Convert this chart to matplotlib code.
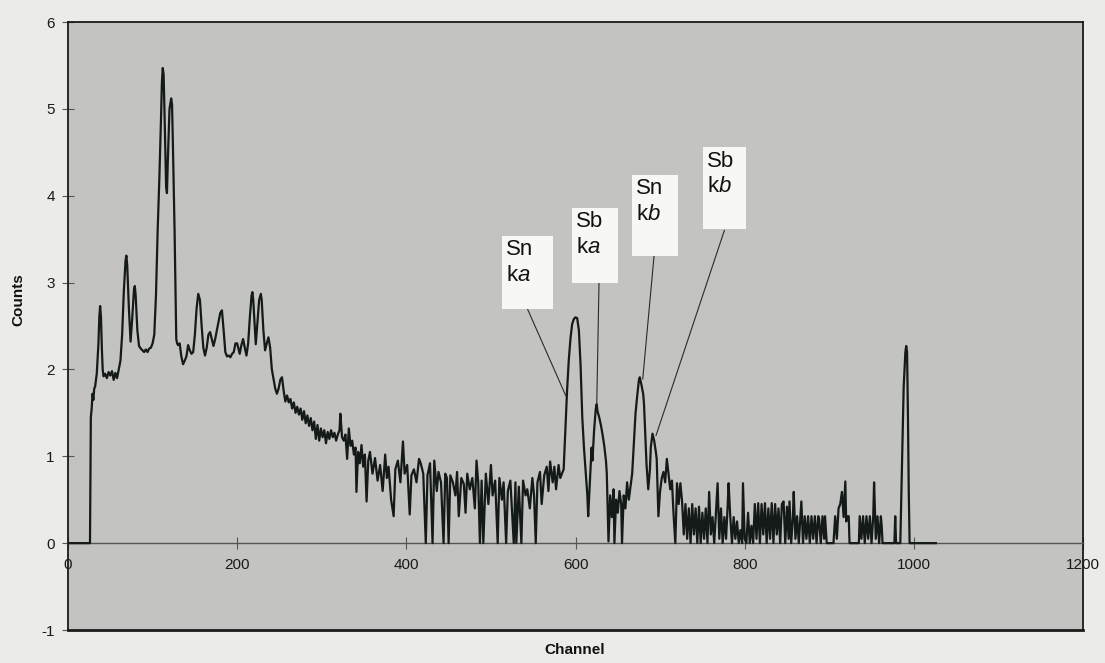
import matplotlib.pyplot as plt
from matplotlib.patches import Rectangle

plt.rcParams["font.family"] = ["Liberation Sans", "DejaVu Sans"]
plt.rcParams["mathtext.fontset"] = "custom"
plt.rcParams["mathtext.rm"] = "Liberation Sans"
plt.rcParams["mathtext.it"] = "Liberation Sans:italic"
plt.rcParams["axes.unicode_minus"] = False

# --- spectrum (channel, counts) ---
# low-energy region with the big L/K lines
ch_low = [0, 26, 27, 28, 29, 30, 31, 32, 34, 36, 37, 38, 39, 40, 41, 42, 44, 46, 48, 50,
          52, 54, 56, 58, 60, 62, 64, 66, 68, 69, 70, 72, 74, 76, 78, 79, 80, 82, 84, 86,
          88, 90, 92, 94, 96, 98, 100, 102, 104, 106, 108, 110, 111, 112, 113, 114, 116, 117, 118, 120,
          122, 123, 124, 126, 128, 129, 130, 132, 134, 136, 138, 140, 142, 144, 146, 148, 150, 152, 154, 156,
          158, 160, 162, 164, 166, 168, 170, 172, 174, 176, 178, 180, 182, 184, 186, 188, 190, 192, 194, 196,
          198, 200, 202, 203, 205, 207, 209, 211, 213, 215, 217, 218, 219, 221, 222, 224, 226, 228, 229, 231,
          233, 235, 237, 239, 241, 243, 245, 247, 249, 251, 253, 255]
cnt_low = [0, 0, 1.45, 1.55, 1.72, 1.65, 1.78, 1.80, 1.95, 2.30, 2.60, 2.73, 2.60, 2.25, 2.00, 1.92, 1.95, 1.90, 1.97, 1.93,
           1.98, 1.88, 1.96, 1.90, 2.00, 2.10, 2.40, 2.90, 3.25, 3.31, 3.20, 2.70, 2.32, 2.60, 2.92, 2.96, 2.85, 2.45, 2.27, 2.24,
           2.22, 2.20, 2.23, 2.20, 2.24, 2.25, 2.30, 2.40, 2.85, 3.60, 4.20, 4.90, 5.30, 5.47, 5.40, 5.00, 4.10, 4.03, 4.40, 5.00,
           5.12, 5.05, 4.60, 3.60, 2.35, 2.30, 2.28, 2.30, 2.15, 2.06, 2.10, 2.15, 2.28, 2.22, 2.18, 2.20, 2.40, 2.70, 2.87, 2.80,
           2.50, 2.25, 2.16, 2.25, 2.40, 2.43, 2.35, 2.27, 2.35, 2.45, 2.55, 2.65, 2.68, 2.45, 2.20, 2.15, 2.16, 2.14, 2.18, 2.20,
           2.30, 2.30, 2.22, 2.18, 2.28, 2.35, 2.25, 2.16, 2.30, 2.60, 2.85, 2.89, 2.80, 2.45, 2.29, 2.55, 2.80, 2.87, 2.80, 2.45,
           2.22, 2.30, 2.37, 2.25, 2.00, 1.89, 1.78, 1.72, 1.78, 1.88, 1.91, 1.75]

# noisy falling background
ch_mid = [257, 259, 261, 263, 265, 267, 269, 271, 273, 275, 277, 279, 281, 283, 285, 287, 289, 291, 293, 295,
          297, 299, 301, 303, 305, 307, 309, 311, 313, 315, 317, 319, 321, 322, 324, 326, 328, 330, 332, 334,
          336, 338, 340, 341, 343, 345, 347, 349, 351, 353, 355, 357, 360, 363, 366, 369, 372, 375, 377, 379,
          382, 385, 387, 390, 393, 396, 398, 401, 404, 406, 409, 412, 415, 417, 420, 423, 425, 428, 431, 433,
          436, 438, 441, 444, 446, 448, 450, 452, 455, 458, 460, 462, 465, 468, 470, 472, 475, 478, 481, 483,
          485, 487, 489, 491, 494, 497, 500, 502, 505, 508, 510, 513, 515, 518, 520, 523, 525, 527, 529, 530,
          533, 536, 538, 541, 543, 546, 549, 551, 553, 555, 558, 560, 563, 566, 568, 570, 573, 575, 577, 580,
          582, 584]
cnt_mid = [1.63, 1.70, 1.62, 1.66, 1.55, 1.62, 1.50, 1.57, 1.48, 1.55, 1.42, 1.52, 1.38, 1.47, 1.35, 1.44, 1.30, 1.40, 1.20, 1.36,
           1.18, 1.32, 1.22, 1.30, 1.15, 1.28, 1.20, 1.30, 1.22, 1.27, 1.18, 1.25, 1.30, 1.49, 1.22, 1.18, 1.25, 0.97, 1.32, 1.12,
           1.18, 1.02, 1.10, 0.59, 1.05, 0.92, 1.13, 0.88, 1.02, 0.48, 0.95, 1.05, 0.80, 0.98, 0.72, 0.90, 0.60, 1.02, 0.75, 0.88,
           0.50, 0.31, 0.85, 0.95, 0.70, 1.17, 0.80, 0.90, 0.33, 0.78, 0.85, 0.70, 0.97, 0.92, 0.80, 0.00, 0.78, 0.92, 0.00, 0.95,
           0.60, 0.82, 0.70, 0.00, 0.80, 0.75, 0.00, 0.78, 0.70, 0.55, 0.82, 0.31, 0.75, 0.68, 0.35, 0.80, 0.62, 0.75, 0.40, 0.95,
           0.70, 0.00, 0.72, 0.00, 0.80, 0.45, 0.90, 0.55, 0.72, 0.00, 0.75, 0.50, 0.70, 0.00, 0.60, 0.72, 0.35, 0.00, 0.70, 0.00,
           0.65, 0.00, 0.72, 0.55, 0.62, 0.40, 0.75, 0.55, 0.00, 0.70, 0.82, 0.45, 0.78, 0.88, 0.60, 0.94, 0.70, 0.88, 0.62, 0.90,
           0.75, 0.80]

# Sn / Sb K lines
ch_k = [586, 588, 590, 592, 594, 596, 598, 600, 602, 604, 606, 608, 610, 612, 614, 615, 617, 619, 620, 622,
        624, 625, 626, 628, 630, 632, 634, 636, 637, 638, 639, 641, 643, 645, 646, 648, 650, 652, 654, 655,
        657, 659, 661, 663, 665, 667, 669, 671, 673, 675, 676, 678, 680, 681, 683, 684, 686, 688, 689, 691,
        693, 695, 696, 698, 700, 702, 704, 706, 708, 710, 712, 714, 716, 718, 720, 722, 724, 726]
cnt_k = [0.85, 1.30, 1.75, 2.10, 2.35, 2.52, 2.58, 2.60, 2.59, 2.45, 2.05, 1.45, 1.10, 0.82, 0.55, 0.31, 0.70, 1.10, 0.95, 1.30,
         1.55, 1.60, 1.52, 1.45, 1.36, 1.25, 1.12, 0.95, 0.80, 0.40, 0.02, 0.55, 0.30, 0.62, 0.00, 0.50, 0.35, 0.60, 0.45, 0.00,
         0.55, 0.40, 0.70, 0.50, 0.65, 0.80, 1.15, 1.50, 1.70, 1.88, 1.91, 1.82, 1.72, 1.60, 1.15, 0.90, 0.62, 0.85, 1.10, 1.26,
         1.18, 1.05, 0.97, 0.31, 0.60, 0.75, 0.82, 0.70, 0.97, 0.80, 0.62, 0.72, 0.32, 0.00, 0.69, 0.45, 0.69, 0.48]

# high channels, near-empty with the pulser peak
ch_high = [728, 730, 732, 734, 736, 738, 740, 742, 744, 746, 748, 750, 752, 754, 756, 758, 760, 762, 764, 766,
           768, 770, 772, 774, 776, 778, 780, 781, 783, 785, 787, 789, 791, 793, 795, 797, 798, 800, 802, 804,
           806, 808, 810, 812, 814, 816, 818, 820, 822, 824, 826, 828, 830, 832, 834, 836, 838, 840, 842, 844,
           846, 848, 850, 852, 853, 855, 857, 858, 860, 862, 864, 866, 867, 869, 871, 873, 875, 877, 879, 881,
           883, 885, 887, 888, 890, 892, 894, 895, 897, 905, 907, 909, 911, 913, 915, 917, 919, 920, 922, 923,
           924, 935, 936, 938, 940, 942, 944, 946, 948, 950, 952, 953, 955, 957, 959, 961, 962, 963, 977, 978,
           979, 984, 986, 988, 990, 991, 992, 993, 994, 995, 1026]
cnt_high = [0.10, 0.45, 0.05, 0.40, 0.00, 0.45, 0.10, 0.40, 0.00, 0.42, 0.00, 0.35, 0.05, 0.40, 0.00, 0.59, 0.10, 0.30, 0.00, 0.35,
            0.69, 0.05, 0.40, 0.00, 0.30, 0.05, 0.45, 0.69, 0.30, 0.00, 0.30, 0.05, 0.25, 0.00, 0.15, 0.00, 0.69, 0.05, 0.00, 0.35,
            0.00, 0.20, 0.00, 0.45, 0.05, 0.46, 0.00, 0.45, 0.10, 0.46, 0.00, 0.40, 0.05, 0.46, 0.00, 0.45, 0.10, 0.40, 0.00, 0.45,
            0.48, 0.00, 0.42, 0.05, 0.48, 0.00, 0.30, 0.59, 0.05, 0.31, 0.00, 0.31, 0.48, 0.00, 0.31, 0.05, 0.31, 0.00, 0.31, 0.05,
            0.31, 0.00, 0.31, 0.28, 0.00, 0.31, 0.05, 0.31, 0.00, 0.00, 0.31, 0.05, 0.40, 0.45, 0.59, 0.30, 0.71, 0.25, 0.31, 0.31,
            0.00, 0.00, 0.31, 0.05, 0.31, 0.00, 0.31, 0.05, 0.31, 0.00, 0.31, 0.70, 0.05, 0.31, 0.00, 0.31, 0.20, 0.00, 0.00, 0.31,
            0.00, 0.00, 0.90, 1.80, 2.20, 2.27, 2.20, 1.50, 0.60, 0.00, 0.00]

# peak labels: text, box (x0, x1, y0, y1) and leader line end on the peak
labels = ["Sn\nk$\\mathit{a}$", "Sb\nk$\\mathit{a}$", "Sn\nk$\\mathit{b}$", "Sb\nk$\\mathit{b}$"]
boxes = [(513, 573, 2.69, 3.54), (596, 650, 3.00, 3.86), (667, 721, 3.31, 4.24), (751, 802, 3.62, 4.56)]
leader_start = [(543.5, 2.69), (627.8, 3.00), (692.8, 3.30), (776.0, 3.60)]
leader_end = [(588.4, 1.70), (625.1, 1.59), (679.5, 1.89), (695.2, 1.24)]

channel = ch_low + ch_mid + ch_k + ch_high
counts = cnt_low + cnt_mid + cnt_k + cnt_high

W, H = 1105, 663
fig = plt.figure(figsize=(W / 100, H / 100), dpi=100, facecolor="#ebebe8")
ax = fig.add_axes([68 / W, 33 / H, (1083 - 68) / W, (630 - 22) / H], facecolor="#c3c3c1")

ax.plot(channel, counts, color="#141a17", lw=1.6, zorder=3)

ax.set_xlim(0, 1200)
ax.set_ylim(-1, 6)
ax.set_xticks(range(0, 1201, 200))
ax.set_yticks(range(-1, 7))

# x axis crosses at zero, frame stays at -1
ax.spines["bottom"].set_position(("data", 0))
ax.spines["bottom"].set_color("#555555")
ax.spines["bottom"].set_linewidth(1.0)
for s in ["top", "right", "left"]:
    ax.spines[s].set_color("#1a1a1a")
    ax.spines[s].set_linewidth(1.3)
ax.axhline(-1, color="#1a1a1a", lw=2.0, clip_on=False, zorder=4)

ax.tick_params(axis="x", direction="inout", length=9, width=0.8, pad=6,
               labelsize=11, colors="#555555", labelcolor="#1a1a1a")
ax.tick_params(axis="y", direction="inout", length=9, width=0.8, pad=5,
               labelsize=11, colors="#555555", labelcolor="#1a1a1a")

for lab, (x0, x1, y0, y1), p0, p1 in zip(labels, boxes, leader_start, leader_end):
    ax.plot([p0[0], p1[0]], [p0[1], p1[1]], color="#2a2a2a", lw=0.8, zorder=4)
    ax.add_patch(Rectangle((x0, y0), x1 - x0, y1 - y0, facecolor="#f7f7f4",
                           edgecolor="none", zorder=5))
    ax.text(x0 + 5, y1 - 0.04, lab, fontsize=16, ha="left", va="top",
            linespacing=1.3, color="#111111", zorder=6)

fig.text(18 / W, 1 - 300 / H, "Counts", rotation=90, ha="center", va="center",
         fontsize=11, fontweight="bold", color="#111111")
fig.text(575 / W, 1 - 650 / H, "Channel", ha="center", va="center",
         fontsize=11, fontweight="bold", color="#111111")

fig.savefig("out.png", dpi=100, facecolor=fig.get_facecolor())
